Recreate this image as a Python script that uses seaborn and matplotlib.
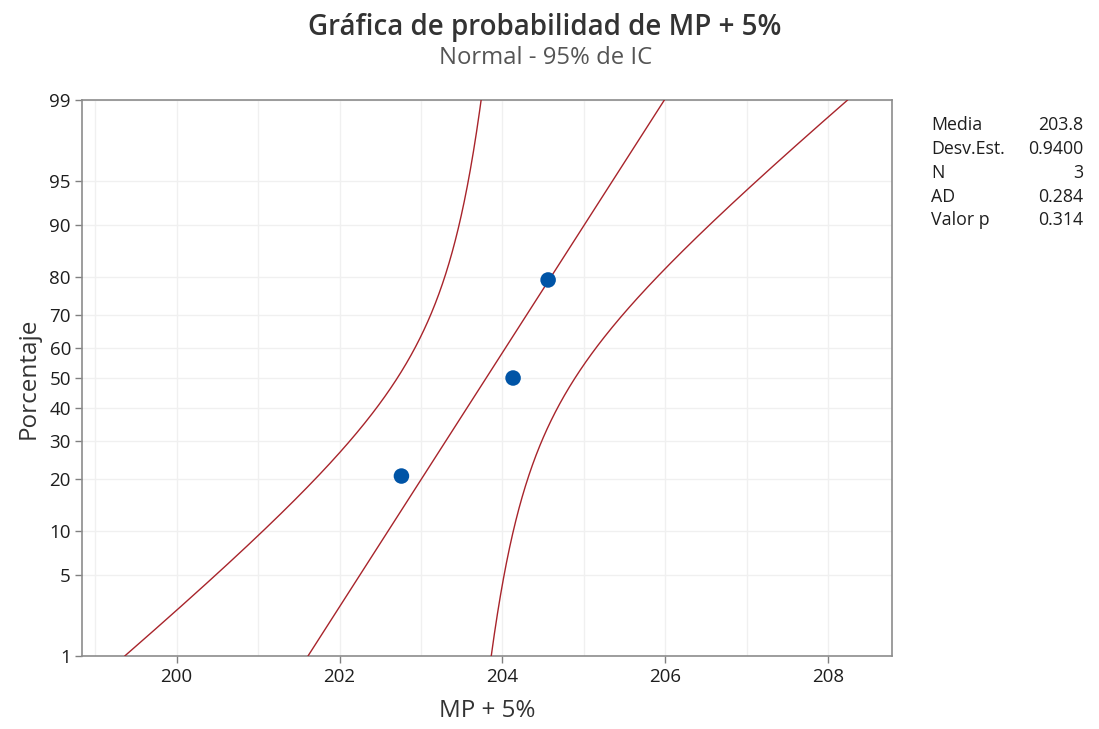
import numpy as np
import pandas as pd
import matplotlib
matplotlib.use("Agg")
import matplotlib.pyplot as plt
import seaborn as sns
from statistics import NormalDist

# ---- data ----
sample_values = [202.76, 204.13, 204.56]
sample_percents = [20.6, 50.0, 79.4]
mean_value = 203.8
std_value = 0.9400
n_obs = 3
ad_value = 0.284
p_value = 0.314
y_tick_values = [1, 5, 10, 20, 30, 40, 50, 60, 70, 80, 90, 95, 99]
x_tick_values = [200, 202, 204, 206, 208]
stat_labels = ["Media", "Desv.Est.", "N", "AD", "Valor p"]
stat_texts = ["203.8", "0.9400", "3", "0.284", "0.314"]
# confidence band half-width coefficients (in units of std): sqrt(a + b*z^2)
band_a = 1.345
band_b = 0.809

nd = NormalDist()
_ppf = np.vectorize(lambda p: nd.inv_cdf(min(max(p / 100.0, 1e-9), 1 - 1e-9)),
                    otypes=[float])
_cdf = np.vectorize(lambda z: 100.0 * nd.cdf(z), otypes=[float])


def fwd(p):
    return _ppf(np.asarray(p, dtype=float))


def inv(z):
    return _cdf(np.asarray(z, dtype=float))


# model curves (fitted line and 95% CI band) from mean / std
pct_grid = inv(np.linspace(fwd(1.0), fwd(99.0), 400))
z_grid = fwd(pct_grid)
fit_x = mean_value + std_value * z_grid
half = std_value * np.sqrt(band_a + band_b * z_grid ** 2)
lines_df = pd.concat([
    pd.DataFrame({"x": fit_x, "p": pct_grid, "curve": "fit"}),
    pd.DataFrame({"x": fit_x - half, "p": pct_grid, "curve": "lower"}),
    pd.DataFrame({"x": fit_x + half, "p": pct_grid, "curve": "upper"}),
])
pts_df = pd.DataFrame({"x": sample_values, "p": sample_percents})

sns.set_theme(style="white")
plt.rcParams["font.family"] = ["Open Sans", "DejaVu Sans"]

fig = plt.figure(figsize=(10.99, 7.29), dpi=100)
ax = fig.add_axes([82 / 1099, 73 / 729, 810 / 1099, 556 / 729])
ax.set_yscale("function", functions=(fwd, inv))

line_color = "#a8242b"
sns.lineplot(data=lines_df, x="x", y="p", units="curve", estimator=None,
             color=line_color, linewidth=1.0, sort=False, ax=ax, zorder=3)
sns.scatterplot(data=pts_df, x="x", y="p", color="#0054a6", s=125,
                edgecolor="none", ax=ax, zorder=4)

ax.set_xlim(198.84, 208.78)
ax.set_ylim(1, 99)
ax.set_yticks(y_tick_values)
ax.set_yticklabels([str(v) for v in y_tick_values])
ax.set_xticks(x_tick_values)
ax.set_xticklabels([str(v) for v in x_tick_values])
ax.set_xticks(np.arange(199, 209, 1), minor=True)
ax.yaxis.set_minor_locator(matplotlib.ticker.NullLocator())

ax.grid(True, which="both", axis="x", color="#f0f0f0", linewidth=1.0, zorder=0)
ax.grid(True, which="major", axis="y", color="#f0f0f0", linewidth=1.0, zorder=0)
ax.set_axisbelow(True)
ax.tick_params(axis="x", which="minor", length=0)
ax.tick_params(axis="both", which="major", direction="out", length=5,
               width=1, color="#808080", labelsize=13.5, labelcolor="#1e1e1e",
               pad=3)
ax.tick_params(axis="x", which="major", bottom=True, pad=4)
ax.tick_params(axis="y", which="major", left=True)
for s in ax.spines.values():
    s.set_color("#8c8c8c")
    s.set_linewidth(1.2)

ax.set_xlabel("MP + 5%", fontsize=17.5, color="#333333", labelpad=9)
ax.set_ylabel("Porcentaje", fontsize=17.5, color="#333333", labelpad=6)

fig.text(0.496, 1 - 28 / 729, "Gráfica de probabilidad de MP + 5%", ha="center",
         va="center", fontsize=20, fontweight="semibold", color="#333333")
fig.text(0.496, 1 - 58 / 729, "Normal - 95% de IC", ha="center", va="center",
         fontsize=17.2, color="#555555")

row_y = [125, 149, 173, 197, 220]
for lab, val, yy in zip(stat_labels, stat_texts, row_y):
    fig.text(931 / 1099, 1 - yy / 729, lab, ha="left", va="center",
             fontsize=12.8, color="#1e1e1e")
    fig.text(1083 / 1099, 1 - yy / 729, val, ha="right", va="center",
             fontsize=12.8, color="#1e1e1e")

fig.savefig("out.png", dpi=100)
